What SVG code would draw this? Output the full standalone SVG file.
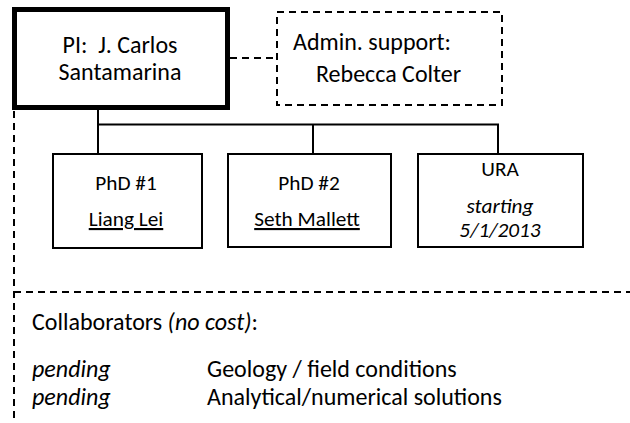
<svg xmlns="http://www.w3.org/2000/svg" width="630" height="423" viewBox="0 0 630 423">
  <style>
    text { font-family: Carlito, Calibri, Lato, "Liberation Sans", sans-serif; fill: #000; }
    .big { font-size: 24px; }
    .med { font-size: 21.3px; }
    .c { text-anchor: middle; }
    .it { font-style: italic; }
    .u { text-decoration: underline; }
    .box { fill: #fff; stroke: #000; stroke-width: 2; }
    .dash { fill: none; stroke: #000; stroke-width: 2; stroke-dasharray: 7 5; }
    .solid { fill: none; stroke: #000; stroke-width: 2; }
  </style>
  <rect width="630" height="423" fill="#fff"/>
  <g id="connectors">
    <line class="dash" x1="230" y1="58" x2="276" y2="58"/>
    <line class="dash" x1="14" y1="111" x2="14" y2="423"/>
    <line class="dash" x1="14" y1="292" x2="630" y2="292"/>
    <polyline class="solid" points="98,110 98,124.5 498,124.5 498,153"/>
    <line class="solid" x1="98" y1="124" x2="98" y2="153"/>
    <line class="solid" x1="313" y1="124" x2="313" y2="153"/>
  </g>
  <g id="pi">
    <rect x="14.5" y="9.5" width="213" height="98" fill="#fff" stroke="#000" stroke-width="5"/>
    <text class="big c" x="120" y="53" xml:space="preserve">PI:  J. Carlos</text>
    <text class="big c" x="120" y="80">Santamarina</text>
  </g>
  <g id="admin">
    <rect class="dash" x="277" y="12" width="225" height="93"/>
    <text class="big" x="293" y="50">Admin. support:</text>
    <text class="big" x="316" y="82">Rebecca Colter</text>
  </g>
  <g id="phd1">
    <rect class="box" x="53" y="154" width="149" height="94"/>
    <text class="med c" x="126" y="190">PhD #1</text>
    <text class="med c u" x="126" y="226">Liang Lei</text>
  </g>
  <g id="phd2">
    <rect class="box" x="228" y="154" width="163" height="93"/>
    <text class="med c" x="309" y="190">PhD #2</text>
    <text class="med c u" x="307" y="226">Seth Mallett</text>
  </g>
  <g id="ura">
    <rect class="box" x="418" y="154" width="165" height="93"/>
    <text class="med c" x="500" y="176">URA</text>
    <text class="med c it" x="500" y="213">starting</text>
    <text class="med c it" x="500" y="237">5/1/2013</text>
  </g>
  <g id="collaborators">
    <text class="big" x="32" y="330">Collaborators <tspan class="it">(no cost)</tspan>:</text>
    <text class="big it" x="32" y="377">pending</text>
    <text class="big" x="207" y="377">Geology / field conditions</text>
    <text class="big it" x="32" y="405">pending</text>
    <text class="big" x="207" y="405">Analytical/numerical solutions</text>
  </g>
</svg>
